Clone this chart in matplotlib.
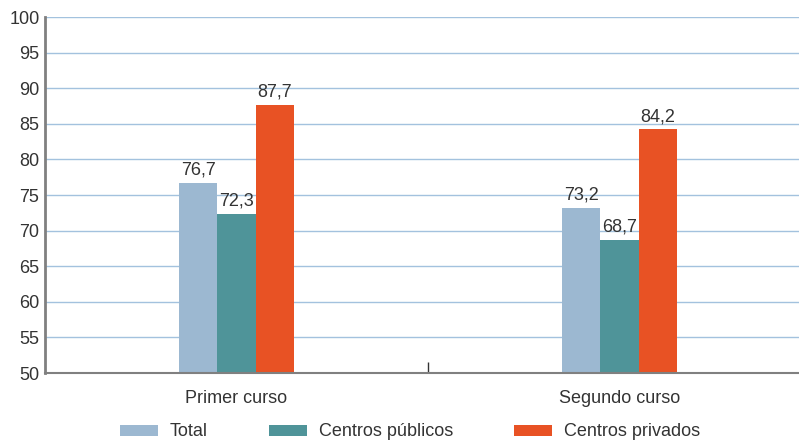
import numpy as np
import matplotlib.pyplot as plt

plt.rcParams['font.family'] = ['Liberation Sans', 'DejaVu Sans']

cursos = ['Primer curso', 'Segundo curso']
series = ['Total', 'Centros públicos', 'Centros privados']
total = [76.7, 73.2]
publicos = [72.3, 68.7]
privados = [87.7, 84.2]
colores = ['#9cb8d1', '#4f9499', '#e85224']

fig = plt.figure(figsize=(7.99, 4.43), dpi=100)
ax = fig.add_axes([45 / 799, 1 - 373 / 443, 766 / 799, 356 / 443])

x = np.arange(len(cursos))
w = 0.1
for i, (vals, name, col) in enumerate(zip([total, publicos, privados], series, colores)):
    bars = ax.bar(x + (i - 1) * w, vals, w, color=col, label=name, zorder=3)
    for b, v in zip(bars, vals):
        ax.text(b.get_x() + b.get_width() / 2, v + 0.6, f'{v:.1f}'.replace('.', ','),
                ha='center', va='bottom', fontsize=13, color='#333333')

ax.set_ylim(50, 100)
ax.set_yticks(range(50, 101, 5))
ax.set_xlim(-0.5, 1.5)
ax.set_xticks(x)
ax.set_xticklabels(cursos, fontsize=13, color='#333333')
ax.tick_params(axis='x', length=0, pad=12)
ax.tick_params(axis='y', length=0, labelsize=13, labelcolor='#333333', pad=4)
ax.grid(axis='y', color='#a3c2de', linewidth=1, zorder=0)

# separator tick between categories
ax.set_xticks([0.5], minor=True)
ax.tick_params(axis='x', which='minor', direction='in', length=8, width=1, color='#333333')

for s in ['top', 'right']:
    ax.spines[s].set_visible(False)
ax.spines['left'].set_color('#808080')
ax.spines['left'].set_linewidth(2)
ax.spines['bottom'].set_color('#808080')
ax.spines['bottom'].set_linewidth(1.5)
ax.spines['bottom'].set_zorder(4)

fig.legend(loc='center', bbox_to_anchor=(410 / 799, 1 - 432 / 443), ncol=3, frameon=False,
           fontsize=13, handlelength=2.1, handleheight=0.55, handletextpad=0.65,
           columnspacing=3.4, labelcolor='#333333')

fig.savefig('out.png', dpi=100)
